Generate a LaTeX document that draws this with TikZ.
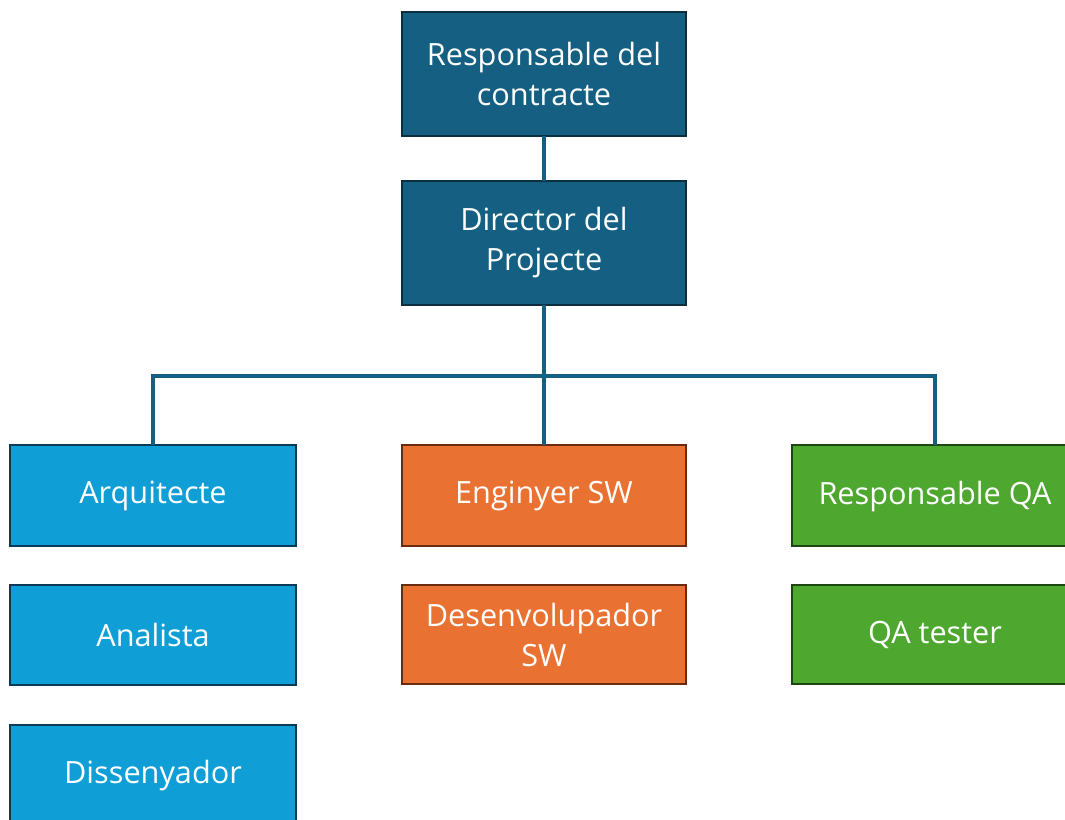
\documentclass[tikz,border=0pt]{standalone}
\usepackage{fontspec}
\setmainfont{Open Sans}
\definecolor{dteal}{HTML}{156082}
\definecolor{dtealb}{HTML}{0C2E3E}
\definecolor{lblue}{HTML}{0F9ED5}
\definecolor{lblueb}{HTML}{0A3A55}
\definecolor{orng}{HTML}{E97132}
\definecolor{orngb}{HTML}{6A2C10}
\definecolor{grn}{HTML}{4EA72E}
\definecolor{grnb}{HTML}{1E4612}
\begin{document}
\begin{tikzpicture}[x=0.75pt,y=-0.75pt,
  box/.style={draw, line width=1.9pt, text=white, align=center, inner sep=0pt, outer sep=0pt,
    font=\fontsize{23}{30}\selectfont, anchor=north west},
  dk/.style={box, fill=dteal, draw=dtealb},
  lb/.style={box, fill=lblue, draw=lblueb},
  og/.style={box, fill=orng, draw=orngb},
  gr/.style={box, fill=grn, draw=grnb},
  lbl/.style={text=white, inner sep=0pt, font=\fontsize{23}{30}\selectfont},
  conn/.style={draw=dteal, line width=2.3pt}]
\useasboundingbox (0,0) rectangle (1065,820);
\begin{scope}
\clip (0,0) rectangle (1065,820);
\node[dk, minimum width=284*0.75pt, minimum height=124*0.75pt] (rc) at (402,12) {Responsable del\\contracte};
\node[dk, minimum width=284*0.75pt, minimum height=124*0.75pt] (dp) at (402,181) {Director del\\Projecte};
\node[lb, minimum width=286*0.75pt, minimum height=101*0.75pt] (ar) at (10,445) {Arquitecte};
\node[lb, minimum width=286*0.75pt, minimum height=100*0.75pt] (an) at (10,585) {Analista};
\node[lb, minimum width=286*0.75pt, minimum height=140*0.75pt] (di) at (10,725) {};
\node[lbl] (dit) at (153,776) {Dissenyador};
\node[og, minimum width=284*0.75pt, minimum height=101*0.75pt] (en) at (402,445) {Enginyer SW};
\node[og, minimum width=284*0.75pt, minimum height=99*0.75pt] (de) at (402,585) {Desenvolupador\\SW};
\node[gr, minimum width=286*0.75pt, minimum height=101*0.75pt] (rq) at (792,445) {};
\node[lbl] (rqt) at (935,497) {Responsable QA};
\node[gr, minimum width=286*0.75pt, minimum height=99*0.75pt] (qt) at (792,585) {};
\node[lbl] (qtt) at (935,635) {QA tester};
\coordinate (j) at (544,376);
\coordinate (jl) at (153,376);
\coordinate (jr) at (935,376);
\draw[conn] (rc.south) -- (dp.north);
\draw[conn] (dp.south) -- (j);
\draw[conn, line cap=rect] (jl) -- (jr);
\draw[conn] (jl) -- (ar.north -| jl);
\draw[conn] (j) -- (en.north);
\draw[conn] (jr) -- (rq.north -| jr);
\end{scope}
\end{tikzpicture}
\end{document}
